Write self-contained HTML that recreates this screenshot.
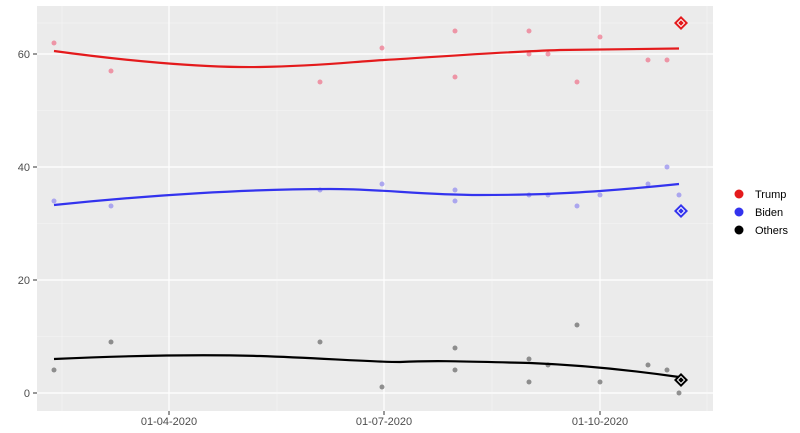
<!DOCTYPE html>
<html><head><style>body{margin:0;background:#fff}svg{display:block}</style></head><body>
<svg width="800" height="433" xmlns="http://www.w3.org/2000/svg" font-family="Liberation Sans, sans-serif">
<rect x="37" y="6" width="676" height="405" fill="#ebebeb"/>
<g stroke="#f5f5f5" stroke-width="0.6">
<line x1="37" x2="713" y1="336.5" y2="336.5"/><line x1="37" x2="713" y1="223.5" y2="223.5"/><line x1="37" x2="713" y1="110.5" y2="110.5"/><line x1="37" x2="713" y1="23" y2="23"/>
<line x1="62" x2="62" y1="6" y2="411"/><line x1="277" x2="277" y1="6" y2="411"/><line x1="492" x2="492" y1="6" y2="411"/><line x1="707" x2="707" y1="6" y2="411"/>
</g>
<g stroke="#fff" stroke-width="1.2">
<line x1="37" x2="713" y1="393" y2="393"/><line x1="37" x2="713" y1="280" y2="280"/><line x1="37" x2="713" y1="167" y2="167"/><line x1="37" x2="713" y1="54" y2="54"/>
<line x1="169" x2="169" y1="6" y2="411"/><line x1="384" x2="384" y1="6" y2="411"/><line x1="600" x2="600" y1="6" y2="411"/>
</g>
<g stroke="#333" stroke-width="1"><line x1="33" x2="37" y1="393" y2="393"/><line x1="33" x2="37" y1="280" y2="280"/><line x1="33" x2="37" y1="167" y2="167"/><line x1="33" x2="37" y1="54" y2="54"/>
<line x1="169" x2="169" y1="411" y2="415"/><line x1="384" x2="384" y1="411" y2="415"/><line x1="600" x2="600" y1="411" y2="415"/></g>
<g font-size="11" fill="#4d4d4d" text-anchor="end"><text x="30" y="397">0</text><text x="30" y="284">20</text><text x="30" y="171">40</text><text x="30" y="58">60</text></g>
<g font-size="11" fill="#4d4d4d" text-anchor="middle"><text x="169" y="425">01-04-2020</text><text x="384" y="425">01-07-2020</text><text x="600" y="425">01-10-2020</text></g>
<g fill="#f0506e" opacity="0.55">
<circle cx="54" cy="43" r="2.5"/><circle cx="111" cy="71" r="2.5"/><circle cx="320" cy="82" r="2.5"/><circle cx="382" cy="48" r="2.5"/><circle cx="455" cy="77" r="2.5"/><circle cx="455" cy="31" r="2.5"/><circle cx="529" cy="31" r="2.5"/><circle cx="529" cy="54" r="2.5"/><circle cx="548" cy="54" r="2.5"/><circle cx="577" cy="82" r="2.5"/><circle cx="600" cy="37" r="2.5"/><circle cx="648" cy="60" r="2.5"/><circle cx="667" cy="60" r="2.5"/></g>
<g fill="#8a82f0" opacity="0.65">
<circle cx="54" cy="201" r="2.5"/><circle cx="111" cy="206" r="2.5"/><circle cx="320" cy="190" r="2.5"/><circle cx="382" cy="184" r="2.5"/><circle cx="455" cy="190" r="2.5"/><circle cx="455" cy="201" r="2.5"/><circle cx="529" cy="195" r="2.5"/><circle cx="548" cy="195" r="2.5"/><circle cx="577" cy="206" r="2.5"/><circle cx="600" cy="195" r="2.5"/><circle cx="648" cy="184" r="2.5"/><circle cx="667" cy="167" r="2.5"/><circle cx="679" cy="195" r="2.5"/></g>
<g fill="#666" opacity="0.7">
<circle cx="54" cy="370" r="2.5"/><circle cx="111" cy="342" r="2.5"/><circle cx="320" cy="342" r="2.5"/><circle cx="382" cy="387" r="2.5"/><circle cx="455" cy="348" r="2.5"/><circle cx="455" cy="370" r="2.5"/><circle cx="529" cy="359" r="2.5"/><circle cx="529" cy="382" r="2.5"/><circle cx="548" cy="365" r="2.5"/><circle cx="577" cy="325" r="2.5"/><circle cx="600" cy="382" r="2.5"/><circle cx="648" cy="365" r="2.5"/><circle cx="667" cy="370" r="2.5"/><circle cx="679" cy="393" r="2.5"/></g>
<g fill="none" stroke-width="2.2">
<path d="M54,51 C120,60 200,68 260,67 C320,66 350,62 384,60 C450,56 500,52 560,50 C610,49 650,49 679,48.5" stroke="#e41a1c"/>
<path d="M54,205 C150,195 250,189 330,189 C384,189 420,195 480,195 C540,195 570,193 600,191 C640,188 660,186 679,184" stroke="#3333ee"/>
<path d="M54,359 C120,356 190,354 260,356 C320,358 370,362 400,362 C440,360 480,362 530,363 C580,365 630,370 679,377" stroke="#000"/>
</g>
<g><path d="M681,16 L688,23 L681,30 L674,23Z" fill="#e41a1c"/><path d="M681,19.5 L684.5,23 L681,26.5 L677.5,23Z" fill="none" stroke="#fff" stroke-width="1"/>
<path d="M681,204 L688,211 L681,218 L674,211Z" fill="#3333ee"/><path d="M681,207.5 L684.5,211 L681,214.5 L677.5,211Z" fill="none" stroke="#fff" stroke-width="1"/>
<path d="M681,373 L688,380 L681,387 L674,380Z" fill="#000"/><path d="M681,376.5 L684.5,380 L681,383.5 L677.5,380Z" fill="none" stroke="#fff" stroke-width="1"/></g>
<circle cx="739" cy="194" r="4.5" fill="#e41a1c"/><circle cx="739" cy="212" r="4.5" fill="#3333ee"/><circle cx="739" cy="230" r="4.5" fill="#000"/>
<g font-size="11" fill="#000"><text x="755" y="198">Trump</text><text x="755" y="216">Biden</text><text x="755" y="234">Others</text></g>
</svg>
</body></html>
